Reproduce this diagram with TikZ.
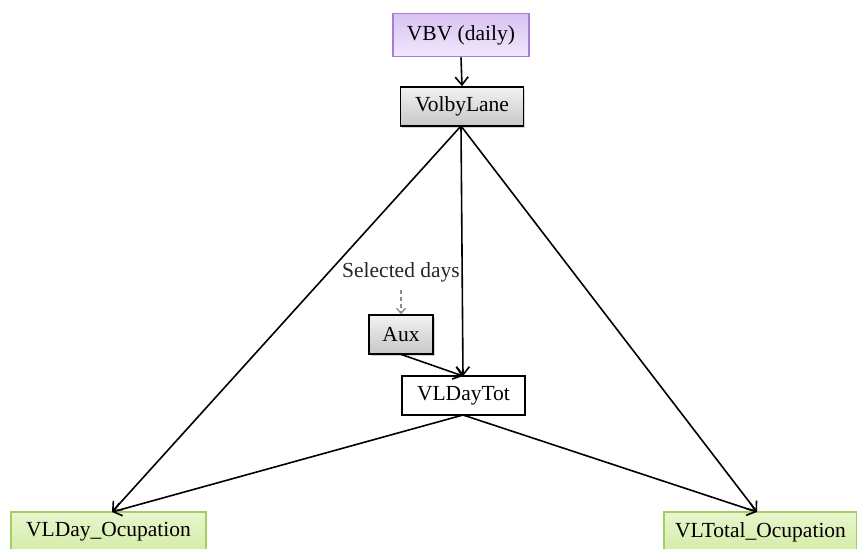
\documentclass[tikz,border=0pt]{standalone}
\usepackage{fontspec}
\setmainfont{Liberation Serif}
\usetikzlibrary{arrows.meta,shadows}
\definecolor{purpleedge}{HTML}{A77BD6}
\definecolor{purpletop}{HTML}{D8C2F2}
\definecolor{purplebot}{HTML}{F1E8FB}
\definecolor{greenedge}{HTML}{A3CF62}
\definecolor{greentop}{HTML}{E8F6CE}
\definecolor{greenbot}{HTML}{D3ECA6}
\tikzset{
  x=1pt, y=-1pt,
  lbl/.style={font=\fontsize{21.5}{25}\selectfont, inner sep=0pt, anchor=center},
  boxbase/.style={lbl, rectangle, line width=1.6pt},
  purplebox/.style={boxbase, draw=purpleedge, top color=purpletop, bottom color=purplebot},
  graybox/.style={boxbase, draw=black, top color=white!95!black, bottom color=black!22,
    drop shadow={shadow xshift=1.5pt, shadow yshift=-1.5pt, opacity=0.35}},
  whitebox/.style={boxbase, draw=black, fill=white},
  greenbox/.style={boxbase, draw=greenedge, top color=greentop, bottom color=greenbot},
  link/.style={line width=1.6pt, -{Straight Barb[length=8pt, width=13pt]}},
  hint/.style={line width=1.3pt, draw=black!45, dashed, dash pattern=on 4pt off 3pt,
    -{Straight Barb[length=5pt, width=9pt]}},
}
\begin{document}
\begin{tikzpicture}
\useasboundingbox (0,0) rectangle (857,549);
% source and main table
\node[purplebox, minimum width=136pt, minimum height=43pt] (vbv) at (461,35) {VBV (daily)};
\node[graybox, minimum width=123pt, minimum height=39pt] (vbl) at (462,106.5) {VolbyLane};
% auxiliary selection
\node[lbl, text=black!85] (sel) at (401,272) {Selected days};
\node[graybox, minimum width=64pt, minimum height=39pt] (aux) at (401,334.5) {Aux};
\node[whitebox, minimum width=123pt, minimum height=39pt] (vdt) at (463.5,395.5) {VLDayTot};
% outputs
\node[greenbox, minimum width=195pt, minimum height=40pt] (vlday) at (108.5,532) {VLDay\_Ocupation};
\node[greenbox, minimum width=193pt, minimum height=40pt] (vltot) at (760.5,532) {VLTotal\_Ocupation};
% connectors
\coordinate (vblb) at (461,126);
\coordinate (vdtt) at (463,376);
\coordinate (vdtb) at (463,415);
\coordinate (dayt) at (112,512);
\coordinate (tott) at (757,512);
\coordinate (auxb) at (400,354);
\coordinate (selb) at (401,290);
\draw[link] (vbv.south) -- (vbl.north);
\draw[link] (vblb) -- (dayt);
\draw[link] (vblb) -- (tott);
\draw[link] (vblb) -- (vdtt);
\draw[link] (auxb) -- (vdtt);
\draw[link] (vdtb) -- (dayt);
\draw[link] (vdtb) -- (tott);
\draw[hint] (selb) -- (aux.north -| selb);
\end{tikzpicture}
\end{document}
